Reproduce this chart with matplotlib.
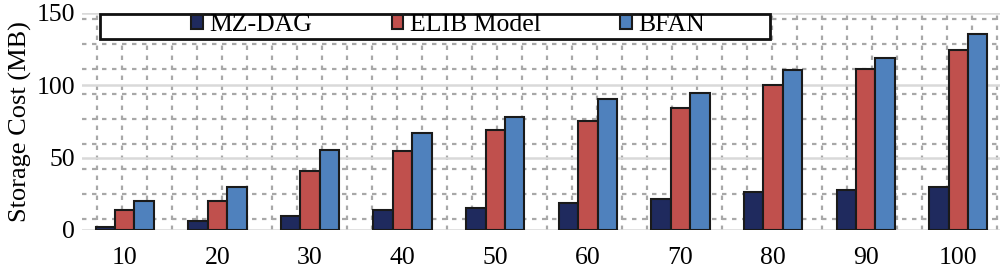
import numpy as np
import matplotlib.pyplot as plt
from matplotlib.patches import Rectangle

plt.rcParams['font.family'] = ['Liberation Serif', 'DejaVu Serif']

sizes = ['10', '20', '30', '40', '50', '60', '70', '80', '90', '100']
mz_dag = [2, 6.5, 10, 13.5, 15.5, 18.5, 21.5, 26, 27.5, 29.5]
elib = [14, 20, 41, 54.5, 69, 75, 84, 100, 111, 124.5]
bfan = [20, 30, 55, 67, 78, 90.5, 95, 110.5, 119, 135.5]

series = [('MZ-DAG', mz_dag, '#1f2a5e'),
          ('ELIB Model', elib, '#c0504d'),
          ('BFAN', bfan, '#4f81bd')]

fig = plt.figure(figsize=(10.02, 2.69), dpi=100)
rect = [0.082, 0.145, 0.916, 0.807]

# dotted background grid (decoration only, in pixel units)
bg = fig.add_axes(rect, zorder=0)
bg.set_xlim(0, 918)
bg.set_ylim(0, 217)
bg.set_xticks(np.arange(15, 918, 25))
bg.set_yticks(np.arange(11, 217, 25))
bg.grid(True, color='#a8a8a8', linestyle=(0, (2, 2.5)), linewidth=1.6)
bg.tick_params(length=0, labelbottom=False, labelleft=False)
for s in bg.spines.values():
  s.set_visible(False)

ax = fig.add_axes(rect, zorder=1)
ax.patch.set_alpha(0)
x = np.arange(len(sizes))
w = 0.21
for i, (name, vals, col) in enumerate(series):
  ax.bar(x + (i - 1) * w, vals, w, color=col, edgecolor='#1a1a1a',
         linewidth=1.5, label=name, zorder=3)

ax.set_xlim(-0.46, 9.45)
ax.set_ylim(0, 150)
ax.set_yticks([0, 50, 100, 150])
ax.set_xticks(x)
ax.set_xticklabels(sizes)
ax.yaxis.grid(True, color='#d9d9d9', linewidth=1.8, zorder=0)
ax.set_axisbelow(True)
ax.tick_params(length=0, labelsize=18.5, pad=5)
ax.tick_params(axis='x', pad=12)
for s in ax.spines.values():
  s.set_visible(False)
ax.set_ylabel('Storage Cost (MB)', fontsize=19, labelpad=3)

# legend box
ax.add_patch(Rectangle((18 / 918, 1 - 26 / 217), 670 / 918, 25 / 217,
                       transform=ax.transAxes, facecolor='white',
                       edgecolor='#111111', linewidth=2, zorder=4,
                       clip_on=False))
leg = ax.legend(loc='center', bbox_to_anchor=(366 / 918, 1 - 12.5 / 217),
                ncol=3, frameon=False, fontsize=18.5, handlelength=0.45,
                handleheight=0.45, handletextpad=0.25, columnspacing=3.1,
                borderpad=0)
leg.set_zorder(5)

fig.savefig('out.png', dpi=100)
